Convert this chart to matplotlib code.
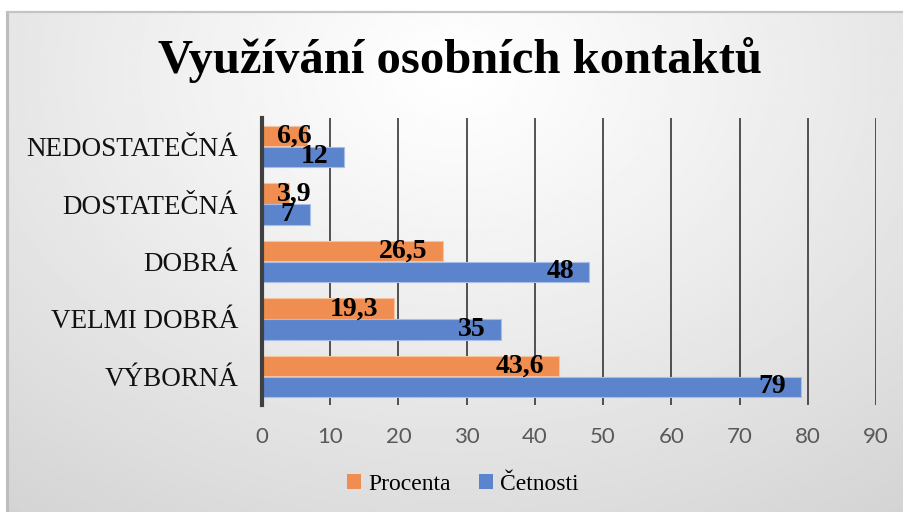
import numpy as np
import matplotlib
matplotlib.use('Agg')
import matplotlib.pyplot as plt
from matplotlib.patches import Patch
from matplotlib.lines import Line2D

# data
categories = ['VÝBORNÁ', 'VELMI DOBRÁ', 'DOBRÁ', 'DOSTATEČNÁ', 'NEDOSTATEČNÁ']
cetnosti = [79, 35, 48, 7, 12]
procenta = [43.6, 19.3, 26.5, 3.9, 6.6]
procenta_labels = ['43,6', '19,3', '26,5', '3,9', '6,6']
xticks = [0, 10, 20, 30, 40, 50, 60, 70, 80, 90]

orange = '#EF8E50'
blue = '#5B84CC'
serif = 'Liberation Serif'

W, H = 904, 512
fig = plt.figure(figsize=(W / 100, H / 100), dpi=100)
fig.patch.set_facecolor('white')

# background with radial gradient (excel style)
bg = fig.add_axes([7 / W, 0, 1 - 7 / W, 1 - 12 / H])
yy, xx = np.mgrid[0:1:300j, 0:1:500j]
d = np.sqrt(((xx - 0.5) / 0.75) ** 2 + ((yy - 0.12) / 1.0) ** 2)
d = np.clip(d / d.max(), 0, 1)
shade = 1.0 - 0.17 * d ** 1.1
bg.imshow(shade, cmap='gray', vmin=0, vmax=1, aspect='auto',
          extent=[0, 1, 0, 1], origin='upper')
bg.set_xlim(0, 1)
bg.set_ylim(0, 1)
bg.axis('off')
fig.add_artist(Line2D([7 / W, 7 / W], [0, 1 - 12 / H], color='#BDBDBD', lw=2.2))
fig.add_artist(Line2D([7 / W, 1], [1 - 12 / H, 1 - 12 / H], color='#C4C4C4', lw=1.6))

# main axes
ax = fig.add_axes([262 / W, 1 - 405 / H, (876 - 262) / W, (405 - 118) / H])
ax.patch.set_alpha(0)
y = np.arange(len(categories))
h = 0.355
ax.barh(y + h / 2 + 0.005, procenta, height=h, color=orange,
        edgecolor='#F6C3A0', linewidth=0.8, label='Procenta', zorder=3)
ax.barh(y - h / 2 - 0.005, cetnosti, height=h, color=blue,
        edgecolor='#A9BEE6', linewidth=0.8, label='Četnosti', zorder=3)

ax.set_xlim(0, 90)
ax.set_ylim(-0.5, len(categories) - 0.5)
ax.set_xticks(xticks)
ax.set_xticklabels([str(t) for t in xticks], fontsize=16, color='#595959',
                   fontfamily='Lato')
ax.tick_params(axis='x', length=0, pad=16)
ax.set_yticks(y)
ax.set_yticklabels(categories, fontsize=19.5, fontfamily=serif, color='#111111')
ax.tick_params(axis='y', length=0, pad=17)
ax.grid(axis='x', color='#262626', linewidth=1.1, zorder=1)
for s in ['top', 'right', 'bottom']:
    ax.spines[s].set_visible(False)
ax.spines['left'].set_color('#404040')
ax.spines['left'].set_linewidth(3)
ax.spines['left'].set_zorder(4)

# data labels, inside end
pad = 2.2
texts = []
for i in range(len(categories)):
    t1 = ax.text(procenta[i] - pad, y[i] + h / 2, procenta_labels[i], ha='right',
                 va='center', fontsize=20, fontweight='bold', fontfamily=serif,
                 zorder=5)
    t2 = ax.text(cetnosti[i] - pad, y[i] - h / 2, str(cetnosti[i]), ha='right',
                 va='center', fontsize=20, fontweight='bold', fontfamily=serif,
                 zorder=5)
    texts += [t1, t2]
fig.canvas.draw()
r = fig.canvas.get_renderer()
x0 = ax.transData.transform((pad, 0))[0]
for t in texts:
    bb = t.get_window_extent(r)
    if bb.x0 < x0:
        t.set_ha('left')
        t.set_x(pad)

fig.text(0.5 + 8 / W, 1 - 60 / H, 'Využívání osobních kontaktů', ha='center',
         va='center', fontsize=35, fontweight='bold', fontfamily=serif)

handles = [Patch(facecolor=orange, label='Procenta'),
           Patch(facecolor=blue, label='Četnosti')]
fig.legend(handles=handles, loc='center', bbox_to_anchor=(463 / W, 1 - 484 / H),
           ncol=2, frameon=False, prop={'family': serif, 'size': 17},
           handlelength=0.6, handleheight=0.6, handletextpad=0.3,
           columnspacing=1.2)

fig.savefig('out.png', dpi=100)
